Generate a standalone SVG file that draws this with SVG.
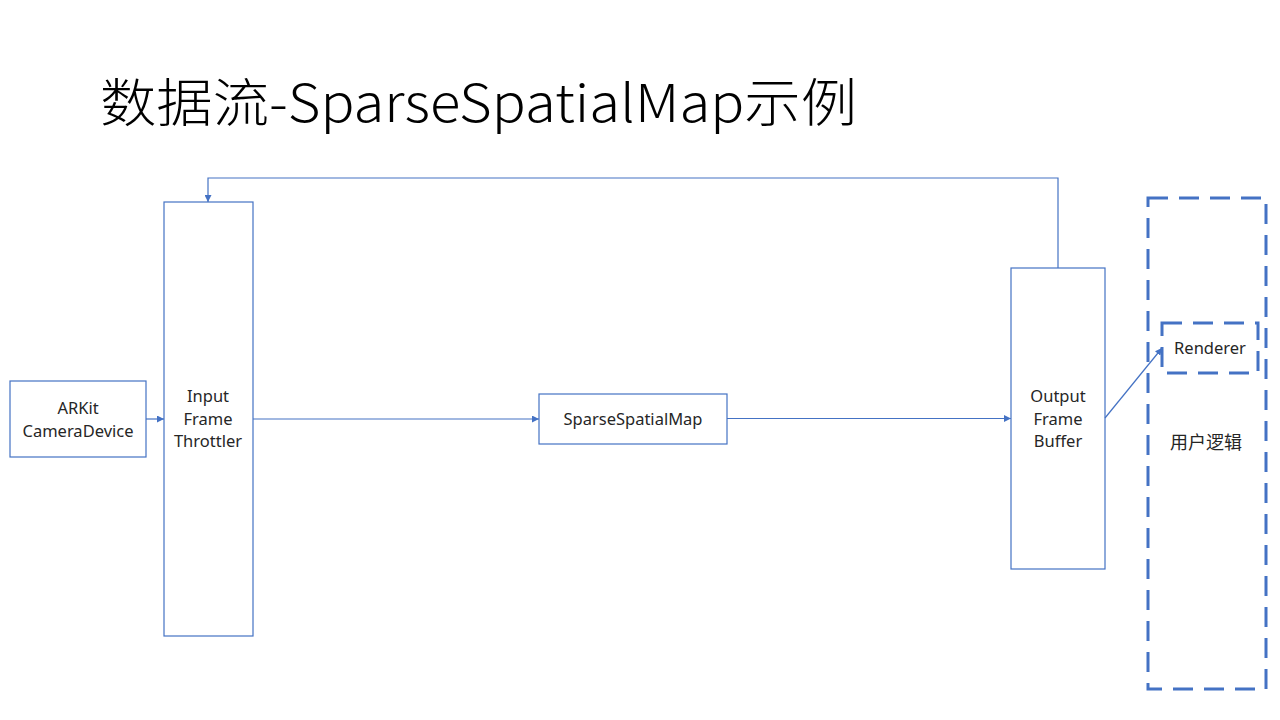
<svg xmlns="http://www.w3.org/2000/svg" width="1280" height="720" viewBox="0 0 1280 720">
<style>
.box{fill:#fff;stroke:#4472c4;stroke-width:1.2}
.dash{fill:none;stroke:#4472c4;stroke-width:3;stroke-dasharray:20 11}
.lbl{font-family:"Noto Sans","Noto Sans CJK SC",sans-serif;font-size:16.5px;fill:#262626;text-anchor:middle}
.cn{font-family:"Noto Sans CJK SC",sans-serif;font-size:18px;fill:#262626;text-anchor:middle}
.edge{fill:none;stroke:#4472c4;stroke-width:1.2}
.title{font-family:"Noto Sans CJK SC","Noto Sans",sans-serif;font-weight:300;font-size:52px;fill:#000}
</style>
<defs>
<marker id="arr" viewBox="0 0 10 10" refX="10" refY="5" markerWidth="7" markerHeight="7" orient="auto" markerUnits="userSpaceOnUse"><path d="M0,0 L10,5 L0,10 z" fill="#4472c4"/></marker>
</defs>
<rect width="1280" height="720" fill="#fff"/>
<text class="title" x="100" y="122" textLength="757" lengthAdjust="spacingAndGlyphs">数据流-SparseSpatialMap示例</text>
<g id="user-logic">
<rect class="dash" x="1148" y="198" width="118" height="491"/>
<text class="cn" x="1206" y="449">用户逻辑</text>
</g>
<g id="renderer">
<rect class="dash" x="1162" y="323" width="96" height="50"/>
<text class="lbl" x="1210" y="354">Renderer</text>
</g>
<g id="arkit">
<rect class="box" x="10" y="381" width="136" height="76"/>
<text class="lbl" x="78" y="414">ARKit</text>
<text class="lbl" x="78" y="437">CameraDevice</text>
</g>
<g id="throttler">
<rect class="box" x="164" y="202" width="89" height="434"/>
<text class="lbl" x="208" y="402">Input</text>
<text class="lbl" x="208" y="425">Frame</text>
<text class="lbl" x="208" y="447">Throttler</text>
</g>
<g id="ssm">
<rect class="box" x="539" y="394" width="188" height="50"/>
<text class="lbl" x="633" y="425">SparseSpatialMap</text>
</g>
<g id="ofb">
<rect class="box" x="1011" y="268" width="94" height="301"/>
<text class="lbl" x="1058" y="402">Output</text>
<text class="lbl" x="1058" y="425">Frame</text>
<text class="lbl" x="1058" y="447">Buffer</text>
</g>
<g id="connectors">
<path class="edge" d="M146,419 L164,419" marker-end="url(#arr)"/>
<path class="edge" d="M253,419 L539,419" marker-end="url(#arr)"/>
<path class="edge" d="M727,418.5 L1011,418.5" marker-end="url(#arr)"/>
<path class="edge" d="M1105,418 L1162,348" marker-end="url(#arr)"/>
<path class="edge" d="M1058,268 L1058,178 L208,178 L208,202" marker-end="url(#arr)"/>
</g>
</svg>
